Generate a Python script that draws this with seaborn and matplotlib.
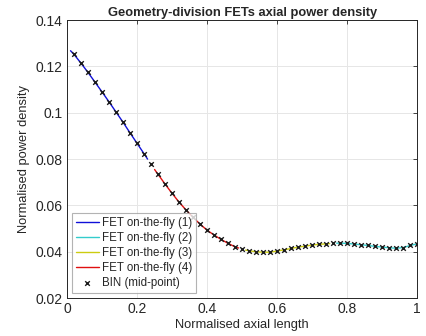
import numpy as np
import pandas as pd
import matplotlib
matplotlib.use("Agg")
import matplotlib.pyplot as plt
import seaborn as sns

sns.set_theme(style="whitegrid")
plt.rcParams['font.family'] = ['Liberation Sans', 'DejaVu Sans']

# BIN mid-point values
bin_x = [0.02, 0.04, 0.06, 0.08, 0.10, 0.12, 0.14, 0.16, 0.18, 0.20,
         0.22, 0.24, 0.26, 0.28, 0.30, 0.32, 0.34, 0.36, 0.38, 0.40,
         0.42, 0.44, 0.46, 0.48, 0.50, 0.52, 0.54, 0.56, 0.58, 0.60,
         0.62, 0.64, 0.66, 0.68, 0.70, 0.72, 0.74, 0.76, 0.78, 0.80,
         0.82, 0.84, 0.86, 0.88, 0.90, 0.92, 0.94, 0.96, 0.98, 1.00]
bin_y = [0.1252, 0.1214, 0.1174, 0.1132, 0.1090, 0.1047, 0.1003, 0.0959, 0.0913, 0.0868,
         0.0823, 0.0778, 0.0734, 0.0692, 0.0652, 0.0614, 0.0580, 0.0548, 0.0519, 0.0493,
         0.0472, 0.0453, 0.0436, 0.0421, 0.0411, 0.0404, 0.0400, 0.0398, 0.0398, 0.0403,
         0.0408, 0.0414, 0.0420, 0.0424, 0.0429, 0.0432, 0.0434, 0.0436, 0.0437, 0.0436,
         0.0433, 0.0430, 0.0427, 0.0423, 0.0420, 0.0417, 0.0415, 0.0418, 0.0427, 0.0434]

# FET on-the-fly reconstructions
fet1_x = [0.01, 0.02, 0.04, 0.06, 0.08, 0.10, 0.12, 0.14, 0.16, 0.18, 0.20, 0.22, 0.23]
fet1_y = [0.1268, 0.1252, 0.1214, 0.1174, 0.1132, 0.1090, 0.1047, 0.1003, 0.0959, 0.0913, 0.0868, 0.0823, 0.0800]
fet4_x = [0.25, 0.26, 0.28, 0.30, 0.32, 0.34, 0.36, 0.38, 0.40, 0.42, 0.44, 0.46, 0.48, 0.49]
fet4_y = [0.0755, 0.0734, 0.0692, 0.0652, 0.0614, 0.0580, 0.0548, 0.0519, 0.0493, 0.0472, 0.0453, 0.0436, 0.0421, 0.0416]
fet3_x = [0.51, 0.52, 0.54, 0.56, 0.58, 0.60, 0.62, 0.64, 0.66, 0.68, 0.70, 0.72, 0.74, 0.75]
fet3_y = [0.0407, 0.0404, 0.0400, 0.0398, 0.0398, 0.0403, 0.0408, 0.0414, 0.0420, 0.0424, 0.0429, 0.0432, 0.0434, 0.0435]
fet2_x = [0.77, 0.78, 0.80, 0.82, 0.84, 0.86, 0.88, 0.90, 0.92, 0.94, 0.96, 0.98, 1.00]
fet2_y = [0.0437, 0.0437, 0.0436, 0.0433, 0.0430, 0.0427, 0.0423, 0.0420, 0.0417, 0.0415, 0.0418, 0.0427, 0.0434]

fets = [
    ('FET on-the-fly (1)', fet1_x, fet1_y, '#1010d8'),
    ('FET on-the-fly (2)', fet2_x, fet2_y, '#33cccc'),
    ('FET on-the-fly (3)', fet3_x, fet3_y, '#cccc10'),
    ('FET on-the-fly (4)', fet4_x, fet4_y, '#e01010'),
]

fig = plt.figure(figsize=(4.27, 3.36), dpi=100)
ax = fig.add_axes([0.157, 0.113, 0.820, 0.827])

for nome, xs, ys, cor in fets:
    sns.lineplot(x=xs, y=ys, color=cor, linewidth=1.0, label=nome, ax=ax)

sns.scatterplot(x=bin_x, y=bin_y, marker='x', color='k', s=11, linewidth=1.0,
                label='BIN (mid-point)', ax=ax, zorder=3)

ax.set_xlim(0, 1)
ax.set_ylim(0.02, 0.14)
ax.set_xticks([0, 0.2, 0.4, 0.6, 0.8, 1])
ax.set_xticklabels(['0', '0.2', '0.4', '0.6', '0.8', '1'])
ax.set_yticks([0.02, 0.04, 0.06, 0.08, 0.1, 0.12, 0.14])
ax.set_yticklabels(['0.02', '0.04', '0.06', '0.08', '0.1', '0.12', '0.14'])

ax.grid(True, color='#e6e6e6', linewidth=0.7)
for s in ax.spines.values():
    s.set_color('#262626')
    s.set_linewidth(0.7)
ax.tick_params(direction='in', length=3, width=0.6, color='#262626',
               top=True, right=True, labelsize=10, labelcolor='#262626', pad=3)

ax.set_xlabel('Normalised axial length', fontsize=9.3, color='#262626', labelpad=2)
ax.set_ylabel('Normalised power density', fontsize=9.3, color='#262626', labelpad=4)
ax.set_title('Geometry-division FETs axial power density', fontsize=9.3,
             fontweight='bold', pad=3)

leg = ax.legend(loc='lower left', fontsize=8.3, frameon=True, fancybox=False,
                borderpad=0.3, labelspacing=0.27, handlelength=2.0,
                handletextpad=0.3, borderaxespad=0.45)
leg.get_frame().set_edgecolor('#a0a0a0')
leg.get_frame().set_linewidth(0.8)

fig.savefig('out.png', dpi=100)
